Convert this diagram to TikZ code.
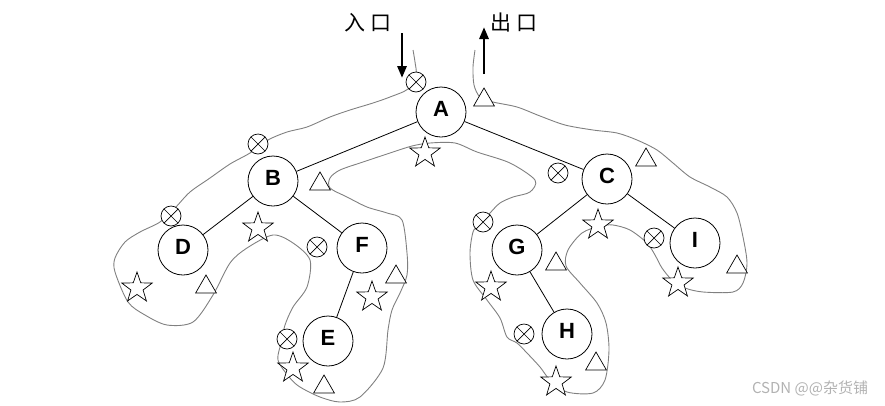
\documentclass[tikz,border=0pt]{standalone}
\usepackage{fontspec}
\setmainfont{Liberation Sans}
\newfontfamily\cjk{Noto Sans CJK SC}
\usetikzlibrary{arrows.meta,shapes.geometric}

\begin{document}
\begin{tikzpicture}[x=1pt, y=-1pt, % pixel units, y runs downwards
	line width=0.8pt, % line style
	treenode/.style={circle,draw,minimum size=50pt,inner sep=0pt,text depth=6pt,
		font=\fontsize{22}{22}\selectfont\bfseries},
	visit/.style={circle,draw,fill=white,minimum size=20pt,inner sep=0pt,line width=0.7pt,
		path picture={\draw[line width=0.7pt]
			(path picture bounding box.south west) -- (path picture bounding box.north east)
			(path picture bounding box.north west) -- (path picture bounding box.south east);}},
	tri/.style={regular polygon,regular polygon sides=3,draw,fill=white,
		minimum size=24pt,inner sep=0pt,line width=0.7pt},
	starmark/.style={star,star points=5,star point ratio=2.5,draw,fill=white,
		minimum size=32pt,inner sep=0pt,line width=0.7pt},
	contour/.style={draw=gray,line width=0.9pt},
	flow/.style={line width=2.8pt,-{Triangle[length=12pt,width=9pt]}},
	cjktext/.style={font=\cjk\fontsize{21}{21}\selectfont}]
	\useasboundingbox (0,0) rectangle (885,405);
	% walk round the tree
	\draw[contour] plot[smooth,tension=0.5] coordinates {
		(413,50) (415,62) (416,75) (408,89) (390,97) (373,103) (350,110) (330,117)
		(307,127) (287,132) (268,140) (250,153) (230,164) (210,178) (190,192) (175,208)
		(160,222) (140,232) (125,242) (115,258) (115,272) (128,302) (145,315) (167,325)
		(193,322) (213,295) (230,263) (247,248) (273,235) (293,243) (310,260) (307,287)
		(293,307) (285,325) (282,340) (278,360) (290,378) (300,387) (320,397) (340,402)
		(360,397) (383,368) (388,330) (392,310) (400,293) (407,275) (407,253) (402,220)
		(387,213) (367,207) (347,197) (330,188) (330,178) (340,170) (363,162) (390,153)
		(412,146) (430,143) (455,143) (477,152) (510,163) (535,180) (530,192) (513,197)
		(500,203) (490,213) (478,226) (473,232) (470,253) (473,280) (487,300) (500,318)
		(507,337) (517,343) (527,353) (540,367) (550,380) (567,392) (593,393) (605,380)
		(609,350) (606,323) (597,303) (580,283) (566,266) (568,250) (582,233) (600,226)
		(613,225) (630,230) (647,243) (655,255) (662,268) (672,280) (685,288) (703,292)
		(733,292) (743,283) (747,263) (743,237) (737,213) (727,197) (710,187) (690,177)
		(673,163) (657,150) (637,140) (617,133) (593,130) (565,125) (540,116) (517,107)
		(493,102) (480,97) (474,85) (473,67) (475,50)};
	% tree
	\node[treenode] (A) at (441,112) {A};
	\node[treenode] (B) at (273,181) {B};
	\node[treenode] (C) at (607,179) {C};
	\node[treenode] (D) at (183,250) {D};
	\node[treenode] (F) at (362,248) {F};
	\node[treenode] (G) at (517,250) {G};
	\node[treenode] (I) at (695,243) {I};
	\node[treenode] (E) at (328,341) {E};
	\node[treenode] (H) at (567,334) {H};
	\draw (A) -- (B);
	\draw (A) -- (C);
	\draw (B) -- (D);
	\draw (B) -- (F);
	\draw (F) -- (E);
	\draw (C) -- (G);
	\draw (C) -- (I);
	\draw (G) -- (H);
	% first visit
	\node[visit] (xa) at (416,82) {};
	\node[visit] (xb) at (258,144) {};
	\node[visit] (xd) at (171,216) {};
	\node[visit] (xf) at (317,247) {};
	\node[visit] (xe) at (287,339) {};
	\node[visit] (xc) at (558,173) {};
	\node[visit] (xg) at (483,222) {};
	\node[visit] (xi) at (654,238) {};
	\node[visit] (xh) at (524,334) {};
	% second visit
	\node[starmark] (sa) at (425,153) {};
	\node[starmark] (sb) at (258,228) {};
	\node[starmark] (sd) at (137,288) {};
	\node[starmark] (sf) at (372,297) {};
	\node[starmark] (se) at (293,368) {};
	\node[starmark] (sc) at (598,225) {};
	\node[starmark] (sg) at (491,287) {};
	\node[starmark] (si) at (678,283) {};
	\node[starmark] (sh) at (556,382) {};
	% third visit
	\node[tri] (ta) at (484,100) {};
	\node[tri] (tb) at (320,184) {};
	\node[tri] (td) at (206,287) {};
	\node[tri] (tf) at (396,277) {};
	\node[tri] (te) at (324,387) {};
	\node[tri] (tc) at (646,160) {};
	\node[tri] (tg) at (556,264) {};
	\node[tri] (ti) at (737,267) {};
	\node[tri] (th) at (596,364) {};
	% entry and exit
	\node[cjktext] (inlab) at (368,23) {入\hspace{5pt}口};
	\node[cjktext] (outlab) at (514,23) {出\hspace{5pt}口};
	\coordinate (inTop) at (402,33);
	\coordinate (inEnd) at (402,78);
	\coordinate (outStart) at (484,74);
	\coordinate (outTop) at (484,27);
	\draw[flow] (inTop) -- (inEnd);
	\draw[flow] (outStart) -- (outTop);
	\node[text=gray!60,font=\cjk\fontsize{15}{15}\selectfont] (mark) at (810,388) {CSDN @@杂货铺};
\end{tikzpicture}
\end{document}
